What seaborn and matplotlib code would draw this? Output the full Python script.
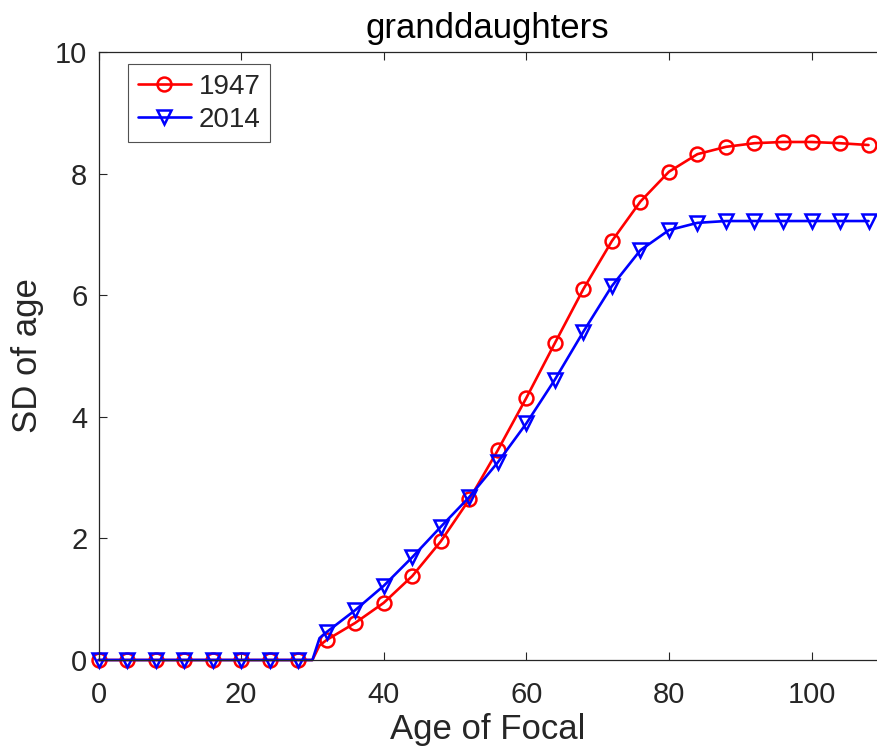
import numpy as np
import pandas as pd
import seaborn as sns
import matplotlib
matplotlib.use("Agg")
import matplotlib.pyplot as plt

ages = [0, 4, 8, 12, 16, 20, 24, 28, 30, 31, 32, 36, 40, 44, 48, 52, 56, 60, 64, 68,
        72, 76, 80, 84, 88, 92, 96, 100, 104, 108]
sd_1947 = [0, 0, 0, 0, 0, 0, 0, 0, 0, 0.24, 0.33, 0.61, 0.94, 1.38, 1.95, 2.64, 3.45, 4.31,
           5.21, 6.10, 6.89, 7.54, 8.03, 8.32, 8.44, 8.50, 8.52, 8.52, 8.50, 8.47]
sd_2014 = [0, 0, 0, 0, 0, 0, 0, 0, 0, 0.36, 0.46, 0.82, 1.22, 1.69, 2.19, 2.68, 3.25, 3.89,
           4.61, 5.40, 6.15, 6.74, 7.07, 7.19, 7.22, 7.22, 7.22, 7.22, 7.22, 7.22]
years = ["1947", "2014"]
x_ticks = [0, 20, 40, 60, 80, 100]
y_ticks = [0, 2, 4, 6, 8, 10]

sns.set_style("white")
plt.rcParams["font.family"] = ["Liberation Sans", "DejaVu Sans"]

df = pd.DataFrame({"age": ages, "1947": sd_1947, "2014": sd_2014})
marks = [i for i, a in enumerate(ages) if a % 4 == 0]

fig = plt.figure(figsize=(8.77, 7.56), dpi=100)
ax = fig.add_axes([98.5 / 877, 1 - 660 / 756, 1 - 98.5 / 877, 608 / 756])

styles = {"1947": ("red", "o"), "2014": ("blue", "v")}
for yr in years:
    c, m = styles[yr]
    sns.lineplot(data=df, x="age", y=yr, ax=ax, color=c, marker=m, markersize=10,
                 markerfacecolor="none", markeredgecolor=c, markeredgewidth=1.8,
                 linewidth=1.9, markevery=marks, label=yr, clip_on=False)

ax.set_xlim(0, (877 - 98.5) / 7.13)
ax.set_ylim(0, 10)
ax.set_xticks(x_ticks)
ax.set_yticks(y_ticks)
ax.tick_params(direction="in", length=6, width=0.8, colors="0.15", labelsize=21,
               top=True, bottom=True, left=True, right=False)
ax.tick_params(axis="x", pad=15)
ax.tick_params(axis="y", pad=8)
for s in ["left", "bottom", "top"]:
    ax.spines[s].set_color("0.15")
    ax.spines[s].set_linewidth(0.9)
ax.spines["right"].set_visible(False)

ax.set_xlabel("Age of Focal", fontsize=25, color="0.15", labelpad=3)
ax.set_ylabel("SD of age", fontsize=25, color="0.15", labelpad=8)
ax.set_title("granddaughters", fontsize=25, color="black", pad=10)

leg = ax.legend(loc="upper left", bbox_to_anchor=(29.5 / 778.5, 1 - 12 / 608),
                borderaxespad=0, fontsize=20, frameon=True, fancybox=False,
                handlelength=1.9, handletextpad=0.3, borderpad=0.35, labelspacing=0.25)
leg.get_frame().set_edgecolor("0.15")
leg.get_frame().set_linewidth(0.8)

fig.savefig("out.png", dpi=100)
